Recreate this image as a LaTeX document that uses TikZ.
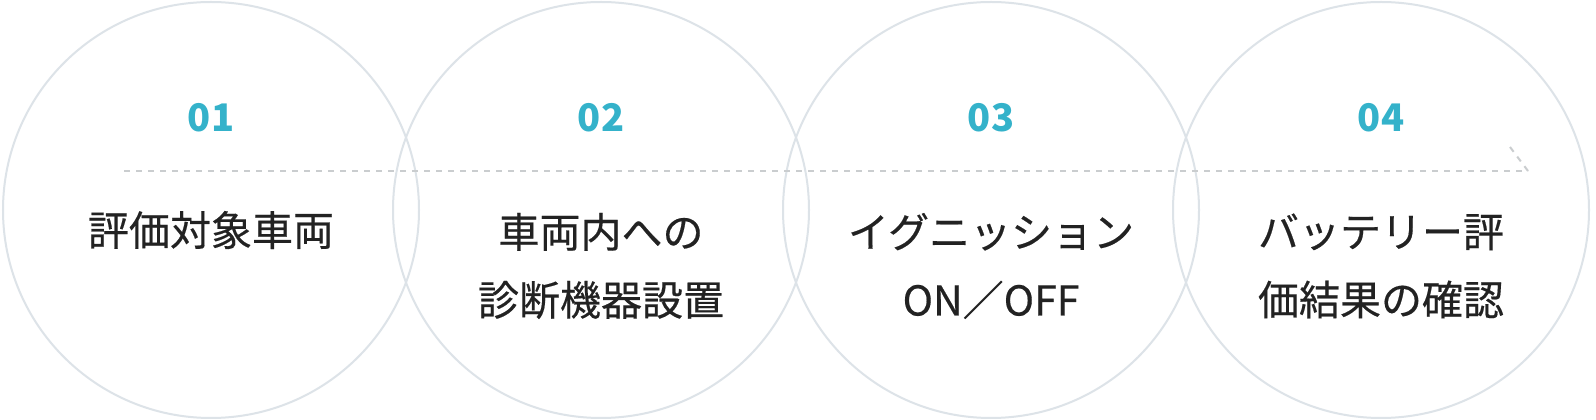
\documentclass[tikz,border=0pt]{standalone}
\usepackage{fontspec}
\setmainfont{Noto Sans CJK JP}
\newfontfamily\cjkmid{Noto Sans CJK JP}[FakeBold=0.4]
\usetikzlibrary{calc, positioning}

\definecolor{ringgray}{HTML}{DDE3E8}
\definecolor{stepteal}{HTML}{34B2CA}
\definecolor{dashgray}{HTML}{CACDCF}
\definecolor{inkblack}{HTML}{222222}

\begin{document}
\begin{tikzpicture}[x=1pt, y=1pt,
  stepcircle/.style={circle, draw=ringgray, line width=2pt,
    minimum size=416pt, inner sep=0pt},
  stepnum/.style={text=stepteal, font=\fontsize{38}{38}\selectfont\bfseries},
  steplabel/.style={text=inkblack, font=\cjkmid\fontsize{41}{68}\selectfont,
    align=center},
  flowline/.style={draw=dashgray, line width=2pt, dash pattern=on 6pt off 6pt}]
% Frame
\fill[white] (0,0) rectangle (1596,420);
\useasboundingbox (0,0) rectangle (1596,420);
% Circles
\node[stepcircle] (step1) at (211,210) {};
\node[stepcircle] (step2) at (601,210) {};
\node[stepcircle] (step3) at (991,210) {};
\node[stepcircle] (step4) at (1381,210) {};
% Dashed flow line with half arrow head
\coordinate (flow-start) at (124,249);
\coordinate (flow-end) at (1528,249);
\coordinate (flow-barb) at (1510,273);
\draw[flowline] (flow-start) -- (flow-end);
\draw[flowline] (flow-end) -- (flow-barb);
% Step numbers
\node[stepnum] (num1) at ($(step1)+(0,92)$) {01};
\node[stepnum] (num2) at ($(step2)+(0,92)$) {02};
\node[stepnum] (num3) at ($(step3)+(0,92)$) {03};
\node[stepnum] (num4) at ($(step4)+(0,92)$) {04};
% Step texts
\node[steplabel] (text1) at ($(step1)+(0,-20)$) {評価対象車両};
\node[steplabel] (text2) at ($(step2)+(0,-56)$) {車両内への\\診断機器設置};
\node[steplabel] (text3) at ($(step3)+(0,-56)$) {イグニッション\\ON／OFF};
\node[steplabel] (text4) at ($(step4)+(0,-56)$) {バッテリー評\\価結果の確認};
\end{tikzpicture}
\end{document}
